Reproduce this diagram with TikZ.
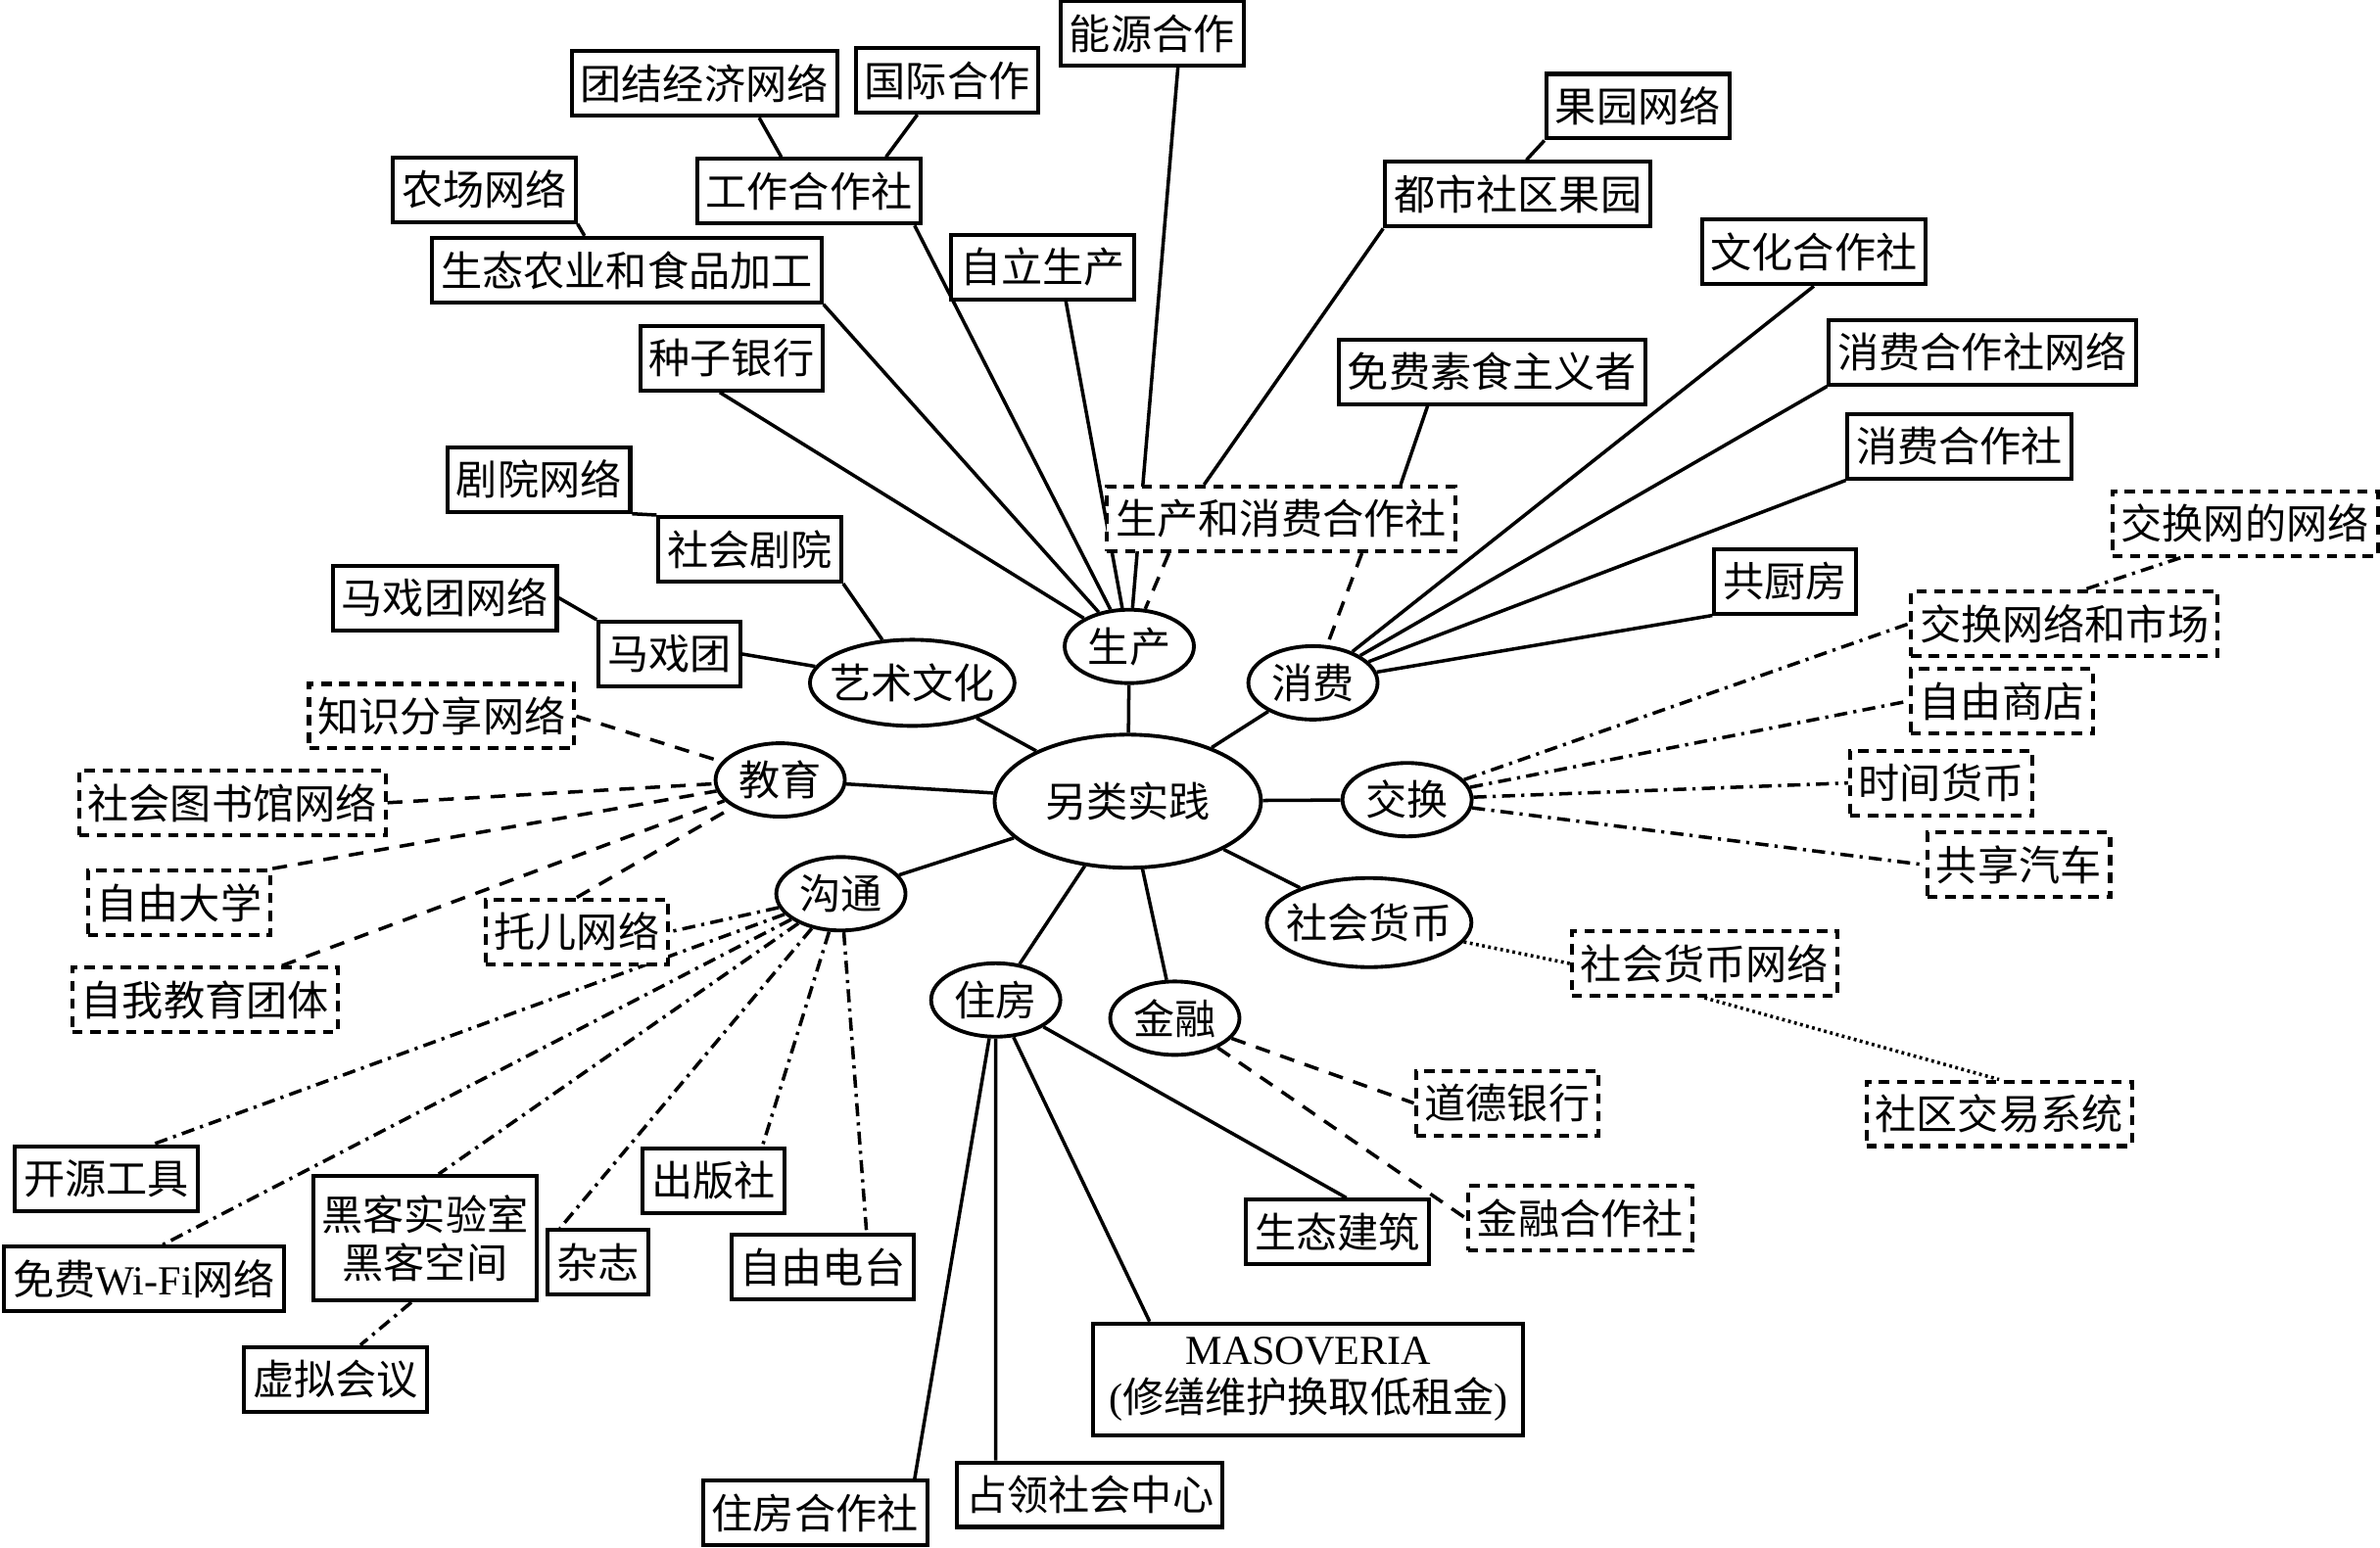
\documentclass[tikz,border=0pt]{standalone}
\usepackage{fontspec}
\setmainfont{Noto Sans CJK SC}
\newfontfamily\latinfont{Liberation Serif}
\usetikzlibrary{shapes.geometric,backgrounds}

\begin{document}
\begin{tikzpicture}[x=0.0155cm,y=-0.0155cm,
  font=\fontsize{12pt}{14pt}\selectfont,
  box/.style={draw,line width=1.15pt,fill=white,minimum height=0.66cm,inner xsep=0.09cm,inner ysep=0.08cm},
  dbox/.style={box,dash pattern=on 3pt off 2.2pt},
  hub/.style={draw,ellipse,line width=1.1pt,fill=white,inner sep=0pt,minimum width=1.32cm,minimum height=0.75cm},
  bighub/.style={hub,inner xsep=-0.11cm,minimum width=2.09cm,minimum height=0.88cm},
  link/.style={line width=1pt},
  dlink/.style={line width=1pt,dash pattern=on 4.3pt off 3.2pt},
  ddlink/.style={line width=1pt,dash pattern=on 3.8pt off 1.8pt on 0.9pt off 1.8pt},
  dotlink/.style={line width=1pt,dash pattern=on 0.8pt off 1pt}]
\useasboundingbox (0,0) rectangle (1568,1020);

\node[hub,minimum width=2.72cm,minimum height=1.36cm] (main) at (743,528) {另类实践};
\node[hub] (prod) at (744,426) {生产};
\node[bighub] (arts) at (601,450) {艺术文化};
\node[hub] (cons) at (865,450) {消费};
\node[hub] (edu) at (514,514) {教育};
\node[hub] (exch) at (927,527) {交换};
\node[hub] (comm) at (554,589) {沟通};
\node[bighub,minimum height=0.91cm] (smon) at (902,608) {社会货币};
\node[hub] (house) at (656,659) {住房};
\node[hub] (fin) at (774,671) {金融};

\node[box] (energy) at (759,22) {能源合作};
\node[box] (solid) at (464,55) {团结经济网络};
\node[box] (intl) at (624,53) {国际合作};
\node[box] (workcoop) at (533,126) {工作合作社};
\node[box] (farmnet) at (319,125) {农场网络};
\node[box] (agri) at (413,178) {生态农业和食品加工};
\node[box] (selfprod) at (687,176) {自立生产};
\node[box] (seed) at (482,236) {种子银行};
\node[box] (theatnet) at (355,316) {剧院网络};
\node[box] (theatre) at (494,362) {社会剧院};
\node[box] (circnet) at (293,394) {马戏团网络};
\node[box] (circus) at (441,431) {马戏团};
\node[box] (orchnet) at (1079,70) {果园网络};
\node[box] (orchard) at (1000,128) {都市社区果园};
\node[box] (culture) at (1195,166) {文化合作社};
\node[box] (freegan) at (983,245) {免费素食主义者};
\node[box] (consnet) at (1306,232) {消费合作社网络};
\node[box] (conscoop) at (1291,294) {消费合作社};
\node[box] (kitchen) at (1176,383) {共厨房};
\node[box] (opensrc) at (70,777) {开源工具};
\node[box] (wifi) at (95,843) {免费{\latinfont Wi-Fi}网络};
\node[box,align=center,minimum height=1.27cm] (hacklab) at (280,816) {黑客实验室\\黑客空间};
\node[box] (virtual) at (221,909) {虚拟会议};
\node[box] (magazine) at (394,832) {杂志};
\node[box] (publisher) at (470,778) {出版社};
\node[box] (radio) at (542,835) {自由电台};
\node[box] (ecobuild) at (881,812) {生态建筑};
\node[box,align=center,minimum width=4.39cm,minimum height=1.14cm] (masov) at (862,909) {{\latinfont MASOVERIA}\\{\latinfont(}修缮维护换取低租金{\latinfont)}};
\node[box] (housecoop) at (537,997) {住房合作社};
\node[box] (squat) at (718,985) {占领社会中心};

\node[dbox] (prodcons) at (844,342) {生产和消费合作社};
\node[dbox] (exnetnet) at (1479,345) {交换网的网络};
\node[dbox] (exnet) at (1360,411) {交换网络和市场};
\node[dbox] (freeshop) at (1319,462) {自由商店};
\node[dbox] (timebank) at (1279,516) {时间货币};
\node[dbox] (carshare) at (1330,570) {共享汽车};
\node[dbox] (smonnet) at (1123,635) {社会货币网络};
\node[dbox] (lets) at (1317,734) {社区交易系统};
\node[dbox] (ethbank) at (993,727) {道德银行};
\node[dbox] (fincoop) at (1041,803) {金融合作社};
\node[dbox] (knownet) at (291,472) {知识分享网络};
\node[dbox] (libnet) at (153,529) {社会图书馆网络};
\node[dbox] (freeuni) at (118,595) {自由大学};
\node[dbox] (selfedu) at (135,659) {自我教育团体};
\node[dbox] (childnet) at (380,614) {托儿网络};

\begin{pgfonlayer}{background}
\foreach \hb in {prod,arts,cons,edu,exch,comm,smon,house,fin}
  \draw[link] (main) -- (\hb);
\draw[link] (prod) -- (energy.-53);
\draw[link] (prod) -- (selfprod.-56);
\draw[link] (prod) -- (workcoop.-18);
\draw[link] (prod) -- (agri.south east);
\draw[link] (prod) -- (seed.-109);
\draw[link] (solid.-32) -- (workcoop.129);
\draw[link] (intl.-131) -- (workcoop.24);
\draw[link] (farmnet.south east) -- (agri.141);
\draw[link] (theatnet.south east) -- (theatre.north west);
\draw[link] (theatre.south east) -- (arts);
\draw[link] (circnet.east) -- (circus.north west);
\draw[link] (circus.east) -- (arts);
\draw[link] (orchnet.south west) -- (orchard.76);
\draw[link] (orchard.south west) -- (prodcons.156);
\draw[link] (freegan.-152) -- (prodcons.16);
\draw[dlink] (prodcons.-163) -- (prod);
\draw[dlink] (prodcons.-23) -- (cons);
\draw[link] (cons) -- (culture.south);
\draw[link] (cons) -- (consnet.south west);
\draw[link] (cons) -- (conscoop.south west);
\draw[link] (cons) -- (kitchen.south west);
\foreach \dd in {exnet,freeshop,timebank,carshare}
  \draw[ddlink] (exch) -- (\dd.west);
\draw[ddlink] (exnetnet.-152) -- (exnet.59);
\draw[dotlink] (smon) -- (smonnet.west);
\draw[dotlink] (smonnet.south) -- (lets.north);
\draw[dlink] (fin) -- (ethbank.west);
\draw[dlink] (fin) -- (fincoop.west);
\draw[link] (house) -- (ecobuild.75);
\draw[link] (house) -- (masov.160);
\draw[link] (house) -- (squat.160);
\draw[link] (house) -- (housecoop.19);
\draw[dlink] (knownet.east) -- (edu);
\draw[dlink] (libnet.east) -- (edu);
\draw[dlink] (freeuni.north east) -- (edu);
\draw[dlink] (selfedu.24) -- (edu);
\draw[dlink] (childnet.north) -- (edu);
\draw[ddlink] (comm) -- (childnet.east);
\draw[ddlink] (comm) -- (opensrc.37);
\draw[ddlink] (comm) -- (wifi.62);
\draw[ddlink] (comm) -- (hacklab.78);
\draw[ddlink] (hacklab.-102) -- (virtual.54);
\draw[ddlink] (comm) -- (magazine.138);
\draw[ddlink] (comm) -- (publisher.35);
\draw[ddlink] (comm) -- (radio.38);
\end{pgfonlayer}
\end{tikzpicture}
\end{document}
